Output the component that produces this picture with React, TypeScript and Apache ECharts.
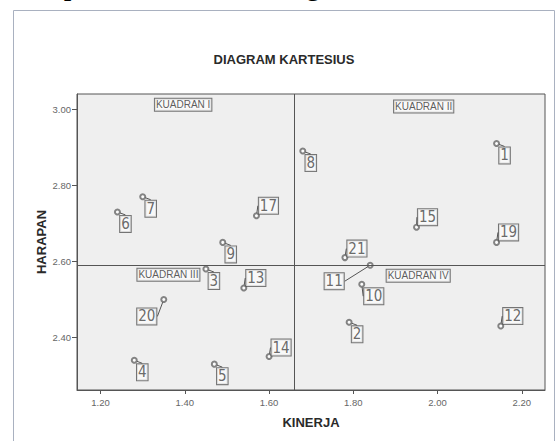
import React, { useEffect, useRef } from "react";
import * as echarts from "echarts";

const respondentIds = ["1", "2", "3", "4", "5", "6", "7", "8", "9", "10", "11", "12", "13", "14", "15", "17", "19", "20", "21"];
const kinerja = [2.14, 1.79, 1.45, 1.28, 1.47, 1.24, 1.3, 1.68, 1.49, 1.82, 1.84, 2.15, 1.54, 1.6, 1.95, 1.57, 2.14, 1.35, 1.78];
const harapan = [2.91, 2.44, 2.58, 2.34, 2.33, 2.73, 2.77, 2.89, 2.65, 2.54, 2.59, 2.43, 2.53, 2.35, 2.69, 2.72, 2.65, 2.5, 2.61];
const kinerjaMean = 1.663;
const harapanMean = 2.594;
const xTicks = [1.2, 1.4, 1.6, 1.8, 2.0, 2.2];
const yTicks = [2.4, 2.6, 2.8, 3.0];
const quadrantNames = ["KUADRAN I", "KUADRAN II", "KUADRAN III", "KUADRAN IV"];
const quadrantX = [1.396, 1.967, 1.361, 1.954];
const quadrantY = [3.012, 3.007, 2.565, 2.562];

// label placement (layout, not data)
const labelPlacement: Record<string, [number, number]> = {
  "10": [12, 12],
  "12": [12, -10],
  "13": [12, -10],
  "14": [12, -9],
  "15": [11, -10],
  "17": [12, -10],
  "19": [12, -10],
  "21": [12, -9],
  "20": [-17, 17],
  "11": [-36, 16],
};
const defaultPlacement: [number, number] = [8, 12];

const SANS = "'Liberation Sans', Arial, sans-serif";

export default function App() {
  const ref = useRef<HTMLDivElement>(null);
  useEffect(() => {
    if (!ref.current) return;
    const chart = echarts.init(ref.current, undefined, { renderer: "svg" });
    const points = respondentIds.map((id, i) => ({ name: id, value: [kinerja[i], harapan[i]] }));
    const quads = quadrantNames.map((n, i) => ({ name: n, value: [quadrantX[i], quadrantY[i]] }));
    chart.setOption({
      animation: false,
      backgroundColor: "#fff",
      title: {
        text: "DIAGRAM KARTESIUS",
        left: 284,
        top: 53,
        padding: 0,
        textAlign: "center",
        textStyle: { fontFamily: SANS, fontWeight: "bold", fontSize: 13, color: "#2a2a2a" },
      },
      graphic: [
        {
          type: "rect",
          z: -10,
          shape: { x: 13.5, y: 10.5, width: 541, height: 440 },
          style: { fill: "#fff", stroke: "#a9b1c0", lineWidth: 1 },
          silent: true,
        },
        {
          type: "text",
          x: 0,
          y: -1,
          style: {
            text: "merupakan hasil dari diagram kartesius.",
            font: "31px 'Liberation Serif', 'Times New Roman', serif",
            fill: "#000",
            verticalAlign: "bottom",
          },
        },
      ],
      grid: {
        left: 77,
        top: 94,
        right: 11,
        bottom: 51,
        show: true,
        backgroundColor: "#efefef",
        borderColor: "#555",
        borderWidth: 1,
      },
      xAxis: {
        type: "value",
        min: 1.144,
        max: 2.255,
        name: "KINERJA",
        nameLocation: "middle",
        nameGap: 26,
        nameMoveOverlap: false,
        nameTextStyle: { fontFamily: SANS, fontWeight: "bold", fontSize: 13, color: "#2a2a2a" },
        axisLine: { show: true, onZero: false, lineStyle: { color: "#555" } },
        axisTick: { show: true, length: 4, customValues: xTicks, lineStyle: { color: "#555" } },
        axisLabel: {
          customValues: xTicks,
          formatter: (v: number) => v.toFixed(2),
          fontFamily: SANS,
          fontSize: 9.5,
          color: "#666",
          margin: 7,
        },
        splitLine: { show: false },
      },
      yAxis: {
        type: "value",
        min: 2.262,
        max: 3.04,
        name: "HARAPAN",
        nameLocation: "middle",
        nameGap: 29,
        nameMoveOverlap: false,
        nameTextStyle: { fontFamily: SANS, fontWeight: "bold", fontSize: 13, color: "#2a2a2a" },
        axisLine: { show: true, onZero: false, lineStyle: { color: "#555" } },
        axisTick: { show: true, length: 5, customValues: yTicks, lineStyle: { color: "#555" } },
        axisLabel: {
          customValues: yTicks,
          formatter: (v: number) => v.toFixed(2),
          fontFamily: SANS,
          fontSize: 9.5,
          color: "#666",
          margin: 6,
        },
        splitLine: { show: false },
      },
      series: [
        {
          type: "scatter",
          data: points,
          symbol: "emptyCircle",
          symbolSize: 5,
          itemStyle: { color: "#666", borderColor: "#666", borderWidth: 1 },
          label: {
            show: true,
            position: "inside",
            formatter: "{b}",
            fontFamily: "'Liberation Sans Narrow', 'DejaVu Sans Condensed', 'Liberation Sans', sans-serif",
            fontSize: 15,
            lineHeight: 15,
            color: "#444",
            backgroundColor: "#fafafa",
            borderColor: "#555",
            borderWidth: 1,
            padding: [1, 1, 0, 1],
          },
          labelLine: { show: true, lineStyle: { color: "#555", width: 1 } },
          labelLayout: (params: any) => {
            const id = respondentIds[params.dataIndex];
            const p = labelPlacement[id] || defaultPlacement;
            return { dx: p[0], dy: p[1] };
          },
          markLine: {
            silent: true,
            symbol: "none",
            label: { show: false },
            lineStyle: { color: "#555", width: 1, type: "solid" },
            data: [{ xAxis: kinerjaMean }, { yAxis: harapanMean }],
          },
          z: 3,
        },
        {
          type: "scatter",
          data: quads,
          symbolSize: 0,
          silent: true,
          label: {
            show: true,
            position: "inside",
            formatter: "{b}",
            fontFamily: SANS,
            fontSize: 10,
            lineHeight: 11,
            color: "#333",
            backgroundColor: "#fafafa",
            borderColor: "#555",
            borderWidth: 1,
            padding: [1, 1, 0, 1],
          },
          z: 4,
        },
      ],
    });
    return () => chart.dispose();
  }, []);
  return <div ref={ref} style={{ position: "absolute", left: 0, top: 0, width: 556, height: 441 }} />;
}
